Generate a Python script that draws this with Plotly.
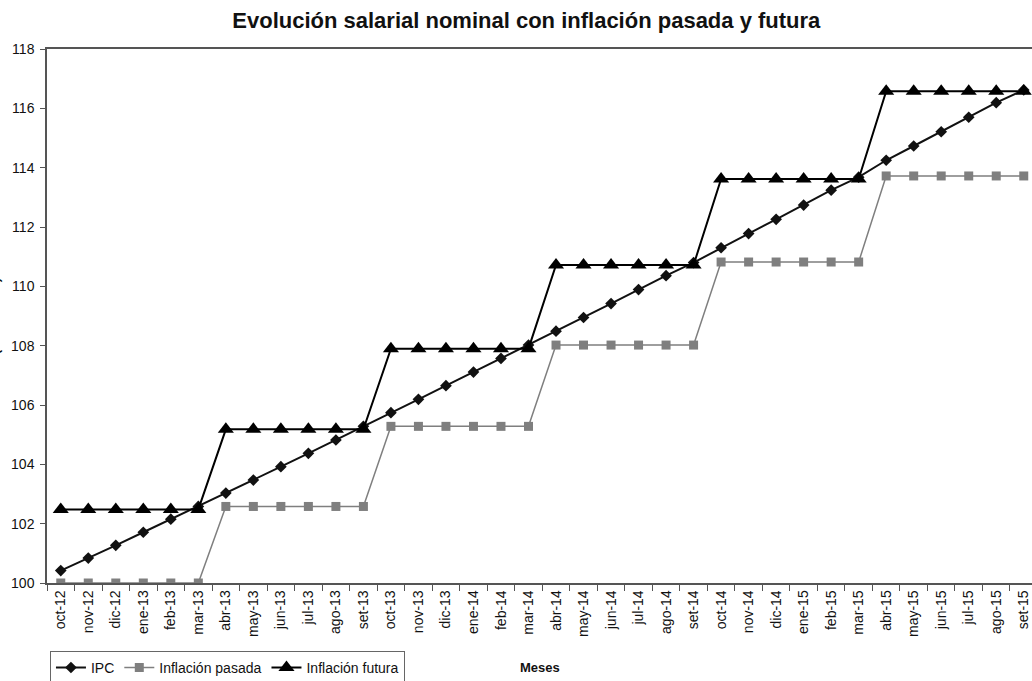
import plotly.graph_objects as go

meses = ["oct-12","nov-12","dic-12","ene-13","feb-13","mar-13","abr-13","may-13","jun-13","jul-13","ago-13","set-13",
         "oct-13","nov-13","dic-13","ene-14","feb-14","mar-14","abr-14","may-14","jun-14","jul-14","ago-14","set-14",
         "oct-14","nov-14","dic-14","ene-15","feb-15","mar-15","abr-15","may-15","jun-15","jul-15","ago-15","set-15"]

ipc = [100.42,100.84,101.27,101.71,102.15,102.58,103.03,103.47,103.92,104.37,104.82,105.28,
       105.74,106.19,106.65,107.11,107.57,108.02,108.49,108.95,109.42,109.89,110.36,110.80,
       111.30,111.78,112.26,112.74,113.24,113.68,114.25,114.73,115.21,115.70,116.19,116.62]

inflacion_pasada = [100.0]*6 + [102.58]*6 + [105.28]*6 + [108.02]*6 + [110.82]*6 + [113.72]*6
inflacion_futura = [102.48]*6 + [105.18]*6 + [107.9]*6 + [110.72]*6 + [113.62]*6 + [116.58]*6

y_ticks = list(range(100, 119, 2))

FONT = "Liberation Sans, Arial, sans-serif"

fig = go.Figure()
fig.add_trace(go.Scatter(x=meses, y=ipc, name="IPC", mode="lines+markers",
                         line=dict(color="#111111", width=2),
                         marker=dict(symbol="diamond", size=9, color="#111111")))
fig.add_trace(go.Scatter(x=meses, y=inflacion_pasada, name="Inflación pasada", mode="lines+markers",
                         line=dict(color="#7f7f7f", width=1.5),
                         marker=dict(symbol="square", size=9, color="#7f7f7f")))
fig.add_trace(go.Scatter(x=meses, y=inflacion_futura, name="Inflación futura", mode="lines+markers",
                         line=dict(color="#000000", width=2),
                         marker=dict(symbol="triangle-up", size=14, color="#000000")))

fig.update_layout(
    width=1032, height=681,
    margin=dict(l=47, r=0, t=49, b=98, autoexpand=False),
    paper_bgcolor="white", plot_bgcolor="white",
    font=dict(family=FONT, size=14, color="#111111"),
    title=dict(text="<b>Evolución salarial nominal con inflación pasada y futura</b>",
               x=0.51, xanchor="center", y=0.97, yanchor="middle",
               font=dict(size=22, family=FONT, color="#111111")),
    showlegend=True,
    legend=dict(orientation="h", x=0.003, xanchor="left", y=-0.159, yanchor="middle",
                bordercolor="#666666", borderwidth=1, bgcolor="white",
                font=dict(size=14, family=FONT), tracegroupgap=0),
    xaxis=dict(type="category", categoryorder="array", categoryarray=meses,
               tickangle=-90, showline=True, linecolor="#555555", linewidth=1.5, mirror=True,
               ticks="outside", tickson="boundaries", ticklen=6, tickcolor="#555555",
               showgrid=False, zeroline=False, range=[-0.5, 35.3], automargin=False,
               tickfont=dict(size=14, family=FONT)),
    yaxis=dict(range=[100, 118], tickvals=y_ticks, showline=True, linecolor="#555555", linewidth=1.5,
               ticks="outside", ticklen=5, tickcolor="#555555", showgrid=False, zeroline=False,
               automargin=False, ticklabelstandoff=3,
               tickfont=dict(size=14, family=FONT)),
    annotations=[
        dict(text="<b>Meses</b>", xref="paper", yref="paper", x=0.5, y=-0.159,
             xanchor="center", yanchor="middle", showarrow=False,
             font=dict(size=13, family=FONT)),
        dict(text="<b>(oct-12=100)</b>", xref="paper", yref="paper", x=-0.044, y=0.5,
             xanchor="right", yanchor="middle", textangle=-90, showarrow=False,
             font=dict(size=13, family=FONT)),
    ],
)

fig.write_html("out.html", config={"displayModeBar": False},
               post_script="document.body.style.margin='0';")
